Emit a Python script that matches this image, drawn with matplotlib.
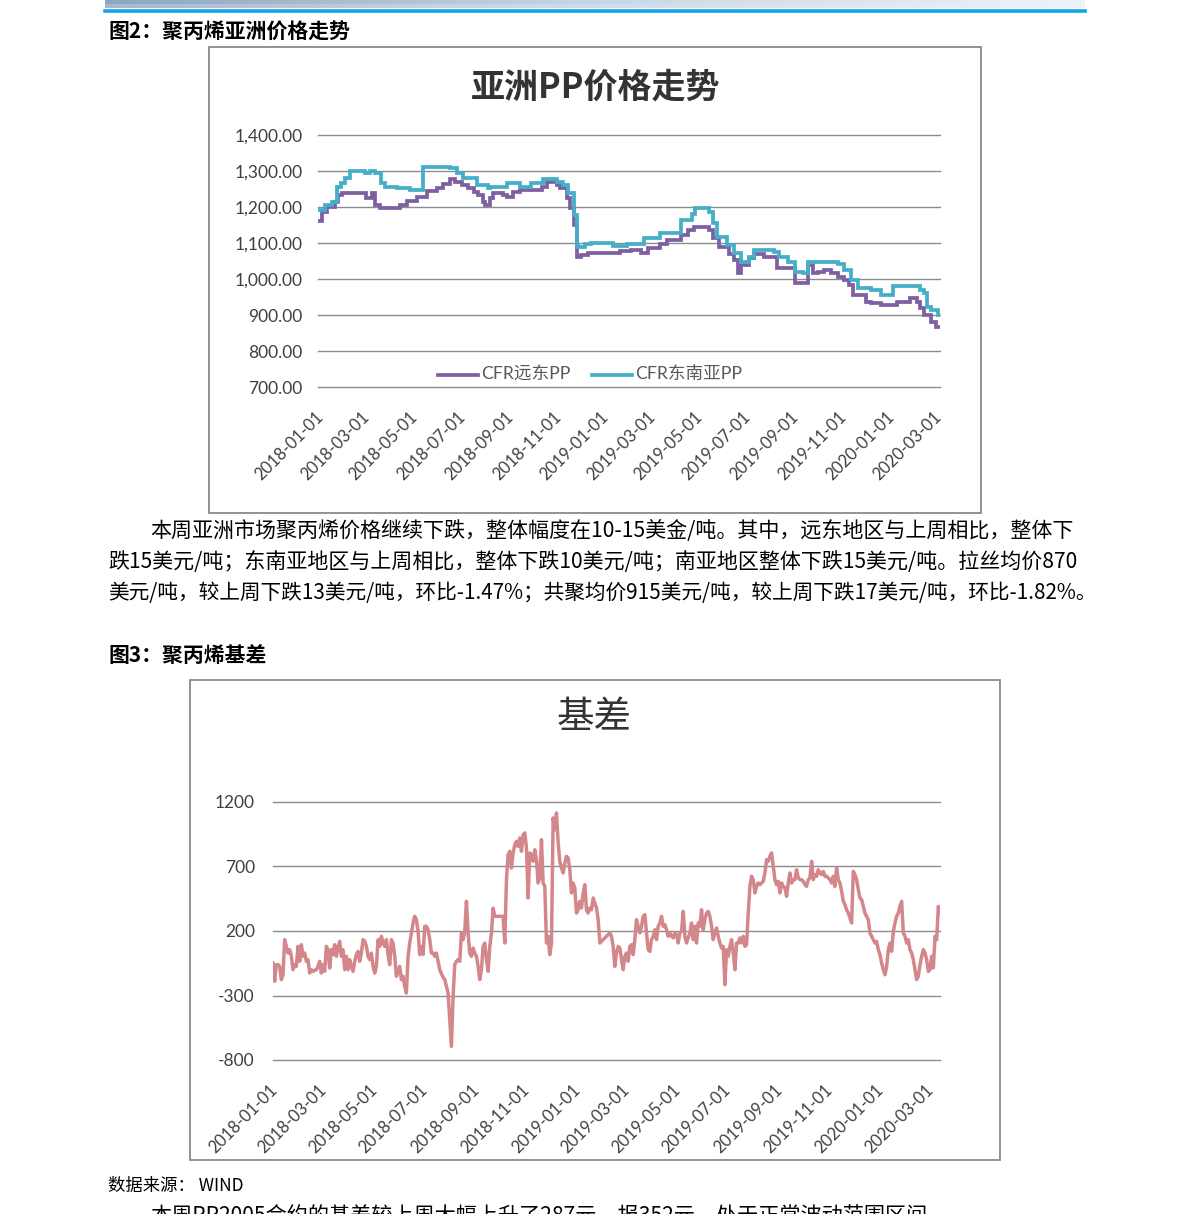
import matplotlib
matplotlib.use('Agg')
import matplotlib.pyplot as plt
import matplotlib.transforms as mtransforms
from matplotlib.lines import Line2D
from matplotlib.patches import Rectangle
from matplotlib.colors import LinearSegmentedColormap
import numpy as np
import pandas as pd

W, H = 1191, 1214
plt.rcParams['font.family'] = ['Noto Sans CJK SC', 'DejaVu Sans']
LAT = ['Lato', 'Noto Sans CJK SC', 'DejaVu Sans']
CJK = ['Noto Sans CJK SC', 'DejaVu Sans']

# ---------------- data ----------------
fe_dates = ["2018-01-02", "2018-01-06", "2018-01-12", "2018-01-23", "2018-01-27", "2018-02-01",
            "2018-03-03", "2018-03-11", "2018-03-15", "2018-03-21", "2018-04-16", "2018-04-25",
            "2018-05-08", "2018-05-21", "2018-06-02", "2018-06-10", "2018-06-19", "2018-06-25",
            "2018-07-04", "2018-07-12", "2018-07-20", "2018-07-25", "2018-07-31", "2018-08-03",
            "2018-08-09", "2018-08-13", "2018-08-26", "2018-08-31", "2018-09-08", "2018-09-17",
            "2018-10-15", "2018-10-21", "2018-11-03", "2018-11-07", "2018-11-16", "2018-11-20",
            "2018-11-24", "2018-11-29", "2018-12-03", "2018-12-12", "2019-01-23", "2019-02-05",
            "2019-02-18", "2019-02-27", "2019-03-15", "2019-03-24", "2019-04-10", "2019-04-20",
            "2019-04-27", "2019-05-16", "2019-05-22", "2019-05-29", "2019-06-11", "2019-06-17",
            "2019-06-22", "2019-06-26", "2019-07-06", "2019-07-13", "2019-07-26", "2019-08-12",
            "2019-09-04", "2019-09-20", "2019-09-26", "2019-10-03", "2019-10-10", "2019-10-19",
            "2019-10-28", "2019-11-05", "2019-11-11", "2019-11-17", "2019-12-03", "2019-12-10",
            "2019-12-23", "2020-01-12", "2020-01-29", "2020-02-07", "2020-02-11", "2020-02-15",
            "2020-02-24", "2020-03-02", "2020-03-07"]
fe_vals = [1160, 1187, 1200, 1215, 1233, 1238,
           1225, 1238, 1205, 1198, 1205, 1217,
           1229, 1244, 1252, 1265, 1278, 1270,
           1262, 1252, 1242, 1233, 1215, 1205,
           1224, 1238, 1233, 1229, 1241, 1247,
           1256, 1270, 1262, 1252, 1224, 1196,
           1150, 1062, 1067, 1071, 1077, 1080,
           1073, 1085, 1096, 1108, 1122, 1136,
           1145, 1136, 1113, 1090, 1069, 1053,
           1016, 1039, 1057, 1069, 1062, 1030,
           988, 1039, 1016, 1020, 1025, 1016,
           1006, 997, 983, 955, 937, 933,
           928, 937, 946, 935, 920, 900,
           881, 867, 867]

sea_dates = ["2018-01-02", "2018-01-10", "2018-01-19", "2018-01-25", "2018-01-30", "2018-02-05",
             "2018-02-11", "2018-03-02", "2018-03-09", "2018-03-15", "2018-03-23", "2018-03-28",
             "2018-04-12", "2018-04-29", "2018-05-16", "2018-06-19", "2018-06-28", "2018-07-06",
             "2018-07-24", "2018-08-06", "2018-08-09", "2018-08-31", "2018-09-17", "2018-09-30",
             "2018-10-16", "2018-11-03", "2018-11-11", "2018-11-17", "2018-11-24", "2018-11-28",
             "2018-11-30", "2018-12-09", "2018-12-16", "2019-01-14", "2019-02-01", "2019-02-22",
             "2019-03-15", "2019-04-10", "2019-04-25", "2019-04-29", "2019-05-16", "2019-05-21",
             "2019-05-27", "2019-06-09", "2019-06-17", "2019-06-26", "2019-07-06", "2019-07-13",
             "2019-08-07", "2019-08-14", "2019-08-25", "2019-09-04", "2019-09-14", "2019-09-20",
             "2019-10-28", "2019-11-05", "2019-11-14", "2019-11-23", "2019-12-10", "2019-12-23",
             "2020-01-07", "2020-02-11", "2020-02-15", "2020-02-20", "2020-02-24", "2020-03-04",
             "2020-03-07"]
sea_vals = [1192, 1205, 1215, 1256, 1266, 1280,
            1300, 1294, 1300, 1294, 1266, 1256,
            1252, 1247, 1312, 1308, 1294, 1280,
            1261, 1252, 1256, 1268, 1256, 1268,
            1278, 1270, 1261, 1238, 1178, 1094,
            1090, 1096, 1099, 1093, 1096, 1113,
            1127, 1164, 1180, 1196, 1187, 1155,
            1118, 1094, 1071, 1048, 1062, 1081,
            1075, 1062, 1048, 1020, 1016, 1048,
            1043, 1025, 997, 974, 970, 955,
            980, 970, 962, 923, 914, 900,
            900]

basis_start, basis_end = "2018-01-01", "2020-03-15"
basis_vals = [
    -48, -190, -61, -61, -74, -177, -139, 133, 81, 29,
    55, 4, -100, -61, -74, 81, -35, 94, 4, 29,
    -35, -22, -126, -100, -113, -105, -100, -74, -35, -126,
    -61, -113, 81, 55, -87, 55, 17, 94, 4, 68,
    120, 4, 55, -100, 4, -100, -22, -74, -113, -35,
    17, 42, -35, 29, 133, 120, 81, 4, -22, 29,
    -74, -126, -74, 133, 81, 159, 107, 81, 133, 17,
    -61, 133, 107, 4, -151, -113, -74, -177, -151, -229,
    -281, 4, 107, 185, 262, 314, 288, 197, 17, 81,
    17, 236, 236, 210, 133, 29, 29, 4, 29, -35,
    -100, -131, -157, -177, -229, -281, -487, -694, -307, -61,
    -35, -22, -35, 185, 133, 197, 430, 185, 29, 4,
    68, 29, 4, -74, -177, -100, 81, 107, -22, -113,
    81, 185, 378, 314, 314, 314, 314, 314, 314, 107,
    598, 792, 818, 688, 805, 869, 895, 856, 921, 818,
    947, 960, 843, 456, 805, 792, 740, 830, 753, 572,
    611, 908, 572, 546, 107, 159, 17, 107, 1076, 985,
    1115, 882, 740, 688, 650, 727, 779, 766, 675, 495,
    572, 533, 339, 365, 430, 378, 495, 559, 365, 339,
    378, 365, 456, 417, 378, 288, 107, 120, 133, 146,
    159, 172, 185, 159, 81, -74, 29, 81, 68,
    -22, -100, 4, 29, -35, 81, 94, 17, 133, 288,
    236, 185, 236, 314, 327, 185, 55, 42, 133, 159,
    210, 133, 236, 262, 314, 236, 249, 210, 159, 185,
    159, 146, 185, 172, 107, 185, 197, 352, 159, 107,
    146, 185, 262, 133, 236, 107, 262, 236, 365, 210,
    288, 339, 352, 314, 236, 133, 185, 223, 159, 107,
    68, 81, -216, 55, 4, 81, 133, 29, -100, 107,
    107, 146, 107, 159, 81, 94, 339, 546, 624, 598,
    495, 546, 572, 559, 572, 585, 650, 753, 740, 779,
    805, 701, 598, 559, 585, 495, 572, 546, 533, 469,
    572, 650, 572, 598, 598, 675, 611, 598, 598, 585,
    559, 546, 598, 611, 740, 598, 637, 624, 675, 650,
    637, 662, 624, 624, 611, 598, 572, 624, 546, 688,
    598, 572, 507, 430, 404, 365, 339, 301, 262, 662,
    637, 598, 520, 456, 443, 391, 339, 314, 288, 185,
    159, 133, 107, 120, 55, 17, -48, -100, -139, -74,
    55, 107, 42, 197, 262, 314, 339, 391, 430, 185,
    159, 107, 133, 55, 29, -22, -100, -177, -151, -61,
    4, 55, 29, -22, -113, -100, 4, -87, 159, 133,
    391, 339]

tick_dates = ["2018-01-01", "2018-03-01", "2018-05-01", "2018-07-01", "2018-09-01",
              "2018-11-01", "2019-01-01", "2019-03-01", "2019-05-01", "2019-07-01",
              "2019-09-01", "2019-11-01", "2020-01-01", "2020-03-01"]
price_yticks = [700, 800, 900, 1000, 1100, 1200, 1300, 1400]
basis_yticks = [-800, -300, 200, 700, 1200]

series1_name = "CFR远东PP"
series2_name = "CFR东南亚PP"
chart1_title = "亚洲PP价格走势"
chart2_title = "基差"
fig2_caption = "图2：聚丙烯亚洲价格走势"
fig3_caption = "图3：聚丙烯基差"
para_lines = ["本周亚洲市场聚丙烯价格继续下跌，整体幅度在10-15美金/吨。其中，远东地区与上周相比，整体下",
              "跌15美元/吨；东南亚地区与上周相比，整体下跌10美元/吨；南亚地区整体下跌15美元/吨。拉丝均价870",
              "美元/吨，较上周下跌13美元/吨，环比-1.47%；共聚均价915美元/吨，较上周下跌17美元/吨，环比-1.82%。"]
source_text = "数据来源： WIND"
next_line = "本周PP2005合约的基差较上周大幅上升了287元，报352元，处于正常波动范围区间"

PURPLE = '#7E60A2'
CYAN = '#45AFC8'
ROSE = '#D4878A'
GRID = '#8C8C8C'
LBL = '#404040'

# ---------------- figure ----------------
fig = plt.figure(figsize=(W / 100, H / 100), dpi=100)
fig.patch.set_facecolor('white')


def fx(x):
    return x / W


def fy(y):
    return 1 - y / H


def px_axes(x0, y0, x1, y1):
    return fig.add_axes([fx(x0), fy(y1), (x1 - x0) / W, (y1 - y0) / H])


# header decoration
hdr = px_axes(105, 0, 1085, 8)
grad = np.linspace(0, 1, 256)[None, :]
cm = LinearSegmentedColormap.from_list('hdr', ['#8FA6BE', '#C8D6E4', '#EEF3F8'])
hdr.imshow(np.vstack([grad, grad * 0.8 + 0.2]), aspect='auto', cmap=cm, extent=[0, 1, 0, 1])
hdr.axis('off')
fig.add_artist(Line2D([fx(105), fx(1085)], [fy(11), fy(11)], color='#12A6E6', lw=2.6,
                      transform=fig.transFigure))

# captions
fig.text(fx(108), fy(31), fig2_caption, fontsize=15, fontweight='bold', family=CJK,
         va='center', ha='left', color='black')
fig.text(fx(108), fy(655), fig3_caption, fontsize=15, fontweight='bold', family=CJK,
         va='center', ha='left', color='black')

# chart frames
fig.add_artist(Rectangle((fx(209), fy(513)), (981 - 209) / W, (513 - 47) / H, fill=False,
                         edgecolor='#8A8A8A', lw=1.3, transform=fig.transFigure))
fig.add_artist(Rectangle((fx(190), fy(1160)), (1000 - 190) / W, (1160 - 680) / H, fill=False,
                         edgecolor='#8A8A8A', lw=1.3, transform=fig.transFigure))


def style_axes(ax, yticks, ylabels, xoff, ypad, xpad):
    ax.set_facecolor('none')
    for s in ax.spines.values():
        s.set_visible(False)
    ax.set_yticks(yticks)
    ax.set_yticklabels(ylabels)
    for v in yticks:
        ax.axhline(v, color=GRID, lw=1.0, zorder=0, clip_on=False)
    ax.tick_params(axis='both', length=0)
    ax.tick_params(axis='y', pad=ypad, labelsize=12.5, labelcolor=LBL)
    td = pd.to_datetime(tick_dates)
    ax.set_xticks(td)
    ax.set_xticklabels(tick_dates, rotation=45, ha='right', va='center',
                       rotation_mode='anchor', fontsize=12, color=LBL)
    ax.tick_params(axis='x', pad=xpad)
    off = mtransforms.ScaledTranslation(xoff / 100, 0, fig.dpi_scale_trans)
    for lbl in ax.get_xticklabels():
        lbl.set_transform(lbl.get_transform() + off)
        lbl.set_family(LAT)
    for lbl in ax.get_yticklabels():
        lbl.set_family(LAT)


# ---------- chart 1 ----------
ax1 = px_axes(318, 135, 940, 387)
ax1.plot(pd.to_datetime(fe_dates), fe_vals, drawstyle='steps-post', color=PURPLE, lw=2.7,
         solid_joinstyle='miter')
ax1.plot(pd.to_datetime(sea_dates), sea_vals, drawstyle='steps-post', color=CYAN, lw=2.7,
         solid_joinstyle='miter')
ax1.set_ylim(700, 1400)
ax1.set_xlim(pd.Timestamp('2018-01-01'), pd.Timestamp('2020-03-07'))
style_axes(ax1, price_yticks, [f"{v:,.2f}" for v in price_yticks], 3, 11, 20)
fig.text(fx(596), fy(87), chart1_title, fontsize=24.5, fontweight='bold', family=CJK,
         ha='center', va='center', color='#333333')
# legend
fig.add_artist(Line2D([fx(438), fx(478)], [fy(375), fy(375)], color=PURPLE, lw=2.7,
                      transform=fig.transFigure))
fig.text(fx(481), fy(374), series1_name, fontsize=12.7, family=LAT, ha='left', va='center',
         color='#595959')
fig.add_artist(Line2D([fx(592), fx(632)], [fy(375), fy(375)], color=CYAN, lw=2.7,
                      transform=fig.transFigure))
fig.text(fx(635), fy(374), series2_name, fontsize=12.7, family=LAT, ha='left', va='center',
         color='#595959')

# ---------- chart 2 ----------
ax2 = px_axes(273, 802, 940, 1060)
bd = pd.date_range(basis_start, basis_end, periods=len(basis_vals))
ax2.plot(bd, basis_vals, color=ROSE, lw=2.5, solid_joinstyle='round')
ax2.set_ylim(-800, 1200)
ax2.set_xlim(pd.Timestamp(basis_start), pd.Timestamp(basis_end))
style_axes(ax2, basis_yticks, [str(v) for v in basis_yticks], 2, 13, 20)
fig.text(fx(594), fy(718), chart2_title, fontsize=27, family=CJK, ha='center', va='center',
         color='#333333')

# ---------- body text ----------
fig.text(fx(150), fy(531), para_lines[0], fontsize=15.15, family=CJK, ha='left', va='center')
fig.text(fx(108), fy(562), para_lines[1], fontsize=15.1, family=CJK, ha='left', va='center')
fig.text(fx(108), fy(593), para_lines[2], fontsize=14.9, family=CJK, ha='left', va='center')
fig.text(fx(108), fy(1186), source_text, fontsize=12.5, family=CJK, ha='left', va='center')
fig.text(fx(150), fy(1217), next_line, fontsize=15.2, family=CJK, ha='left', va='center')

fig.savefig('out.png', dpi=100, facecolor='white')
